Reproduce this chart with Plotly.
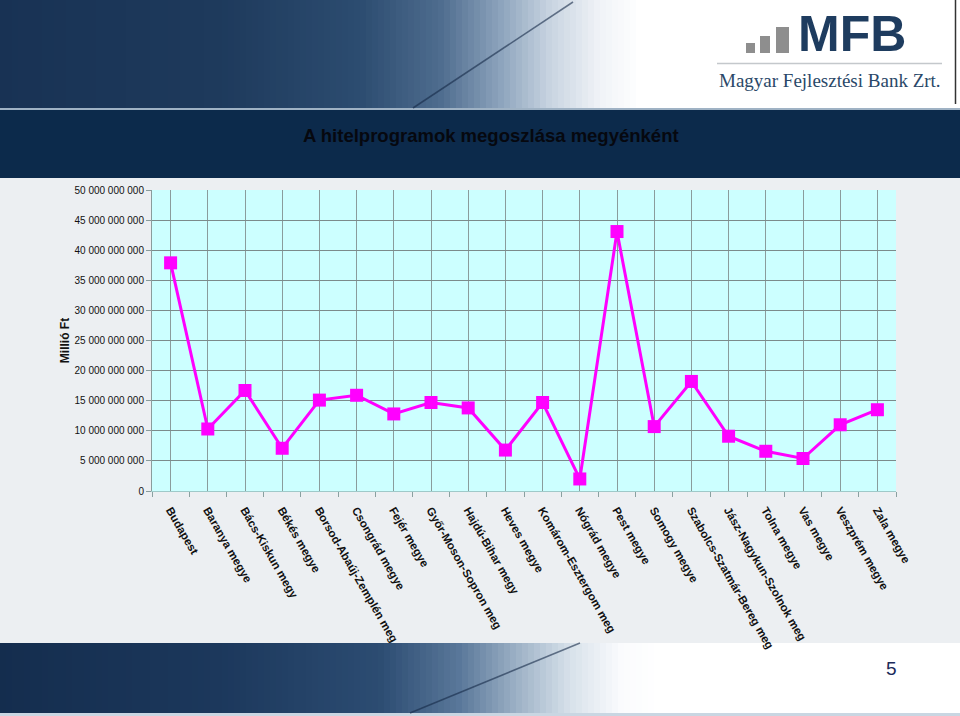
import plotly.graph_objects as go

# ---------------- data ----------------
categories = [
    "Budapest", "Baranya megye", "Bács-Kiskun megye", "Békés megye",
    "Borsod-Abaúj-Zemplén megye", "Csongrád megye", "Fejér megye",
    "Győr-Moson-Sopron megye", "Hajdú-Bihar megye", "Heves megye",
    "Komárom-Esztergom megye", "Nógrád megye", "Pest megye", "Somogy megye",
    "Szabolcs-Szatmár-Bereg megye", "Jász-Nagykun-Szolnok megye",
    "Tolna megye", "Vas megye", "Veszprém megye", "Zala megye",
]
# tick labels as they appear (clipped) on the slide
tick_labels = [
    "Budapest", "Baranya megye", "Bács-Kiskun megy", "Békés megye",
    "Borsod-Abaúj-Zemplén meg", "Csongrád megye", "Fejér megye",
    "Győr-Moson-Sopron meg", "Hajdú-Bihar megy", "Heves megye",
    "Komárom-Esztergom meg", "Nógrád megye", "Pest megye", "Somogy megye",
    "Szabolcs-Szatmár-Bereg meg", "Jász-Nagykun-Szolnok meg",
    "Tolna megye", "Vas megye", "Veszprém megye", "Zala megye",
]
values = [
    37.9e9, 10.3e9, 16.7e9, 7.1e9, 15.1e9, 15.9e9, 12.8e9, 14.7e9, 13.8e9,
    6.8e9, 14.7e9, 2.0e9, 43.1e9, 10.7e9, 18.2e9, 9.1e9, 6.6e9, 5.4e9,
    11.0e9, 13.5e9,
]
y_tick_values = [i * 5e9 for i in range(11)]

title_text = "A hitelprogramok megoszlása megyénként"
y_title = "Millió Ft"
page_number = "5"

# ---------------- layout geometry ----------------
W, H = 960, 716
L, R, T, B = 152, 64, 190, 225
PW, PH = W - L - R, H - T - B


def px(x):
    return (x - L) / PW


def py(y):
    return (H - B - y) / PH


def lerp_color(stops, x):
    for (x0, c0), (x1, c1) in zip(stops, stops[1:]):
        if x0 <= x <= x1:
            t = (x - x0) / (x1 - x0) if x1 > x0 else 0
            c = [round(a + (b - a) * t) for a, b in zip(c0, c1)]
            return "rgb(%d,%d,%d)" % tuple(c)
    return "rgb(%d,%d,%d)" % stops[-1][1]


shapes = []

head_stops = [(0, (24, 50, 84)), (220, (30, 58, 92)), (360, (44, 76, 112)),
              (440, (78, 108, 142)), (500, (140, 163, 188)), (550, (200, 212, 225)),
              (600, (240, 243, 247)), (640, (255, 255, 255)), (960, (255, 255, 255))]
foot_stops = [(0, (20, 45, 78)), (220, (28, 56, 92)), (380, (44, 76, 114)),
              (460, (90, 120, 154)), (520, (160, 180, 200)), (570, (215, 225, 234)),
              (620, (250, 251, 253)), (660, (255, 255, 255)), (960, (255, 255, 255))]

step = 6
for xs in range(0, W, step):
    shapes.append(dict(type="rect", xref="paper", yref="paper",
                       x0=px(xs), x1=px(xs + step + 0.5), y0=py(108), y1=py(0),
                       fillcolor=lerp_color(head_stops, xs + step / 2),
                       line_width=0, layer="below"))
    shapes.append(dict(type="rect", xref="paper", yref="paper",
                       x0=px(xs), x1=px(xs + step + 0.5), y0=py(713), y1=py(643),
                       fillcolor=lerp_color(foot_stops, xs + step / 2),
                       line_width=0, layer="below"))

# thin separator, title band
shapes.append(dict(type="rect", xref="paper", yref="paper", x0=px(0), x1=px(W),
                   y0=py(110), y1=py(108), fillcolor="#9fb2c4", line_width=0, layer="below"))
shapes.append(dict(type="rect", xref="paper", yref="paper", x0=px(0), x1=px(W),
                   y0=py(178), y1=py(110), fillcolor="#0c2a4b", line_width=0, layer="below"))
shapes.append(dict(type="rect", xref="paper", yref="paper", x0=px(0), x1=px(W),
                   y0=py(716), y1=py(713), fillcolor="#c9d6e2", line_width=0, layer="below"))
# decorative diagonal strokes
shapes.append(dict(type="line", xref="paper", yref="paper", x0=px(413), y0=py(108),
                   x1=px(573), y1=py(2), line=dict(color="rgba(20,40,70,0.6)", width=1.5),
                   layer="below"))
shapes.append(dict(type="line", xref="paper", yref="paper", x0=px(410), y0=py(713),
                   x1=px(580), y1=py(643), line=dict(color="rgba(20,40,70,0.6)", width=1.5),
                   layer="below"))
# header right border
shapes.append(dict(type="line", xref="paper", yref="paper", x0=px(955.5), y0=py(0),
                   x1=px(955.5), y1=py(104), line=dict(color="#333", width=1.5), layer="below"))

# logo bars and rule
for (bx0, bx1, by0) in [(746, 755, 43), (760, 770, 36), (776, 789, 27)]:
    shapes.append(dict(type="rect", xref="paper", yref="paper", x0=px(bx0), x1=px(bx1),
                       y0=py(53), y1=py(by0), fillcolor="#8e8e8e", line_width=0,
                       layer="below"))
shapes.append(dict(type="line", xref="paper", yref="paper", x0=px(717), y0=py(63.5),
                   x1=px(942), y1=py(63.5), line=dict(color="#c4c8cc", width=1.5),
                   layer="below"))

annotations = [
    dict(text="<b>" + title_text + "</b>", xref="paper", yref="paper", x=px(491), y=py(136),
         xanchor="center", yanchor="middle", showarrow=False,
         font=dict(family="Liberation Sans, Arial", size=18.5, color="#06080f")),
    dict(text="<b>MFB</b>", xref="paper", yref="paper", x=px(796), y=py(34),
         xanchor="left", yanchor="middle", showarrow=False,
         font=dict(family="Liberation Sans, Arial", size=50, color="#1e3c5f")),
    dict(text="Magyar Fejlesztési Bank Zrt.", xref="paper", yref="paper",
         x=px(717), y=py(80), xanchor="left", yanchor="middle", showarrow=False,
         font=dict(family="Liberation Serif, Times New Roman", size=19, color="#2a4868")),
    dict(text=page_number, xref="paper", yref="paper", x=px(891), y=py(668),
         xanchor="center", yanchor="middle", showarrow=False,
         font=dict(family="Liberation Sans, Arial", size=19, color="#1c2a5a")),
]

fig = go.Figure()
fig.add_trace(go.Scatter(
    x=list(range(len(categories))), y=values, mode="lines+markers",
    line=dict(color="#ff00ff", width=3),
    marker=dict(symbol="square", size=13, color="#ff00ff"),
    customdata=categories,
    hovertemplate="%{customdata}: %{y:,.0f} Ft<extra></extra>",
    cliponaxis=False,
))

fig.update_layout(
    width=W, height=H,
    margin=dict(l=L, r=R, t=T, b=B, autoexpand=False),
    paper_bgcolor="#eceff2",
    plot_bgcolor="#ccffff",
    separators=", ",
    showlegend=False,
    shapes=shapes,
    annotations=annotations,
    xaxis=dict(
        range=[-0.5, len(categories) - 0.5],
        tickmode="array",
        tickvals=list(range(len(categories))),
        ticktext=tick_labels,
        tickangle=60,
        ticks="",
        ticklabelstandoff=7,
        showgrid=True, gridcolor="#8a9c9c", gridwidth=1,
        zeroline=False,
        showline=True, linecolor="#9fc9c9", linewidth=1,
        tickfont=dict(family="Liberation Sans, Arial", size=11.5, color="#111111",
                      weight="bold"),
        minor=dict(tickmode="array",
                   tickvals=[i + 0.5 for i in range(-1, len(categories))],
                   ticks="outside", ticklen=5, tickcolor="#8aa0a0", showgrid=False),
        fixedrange=True,
    ),
    yaxis=dict(
        range=[0, 50e9],
        tickmode="array",
        tickvals=y_tick_values,
        tickformat=",.0f",
        ticks="outside", ticklen=5, tickcolor="#8a9c9c",
        showgrid=True, gridcolor="#7b8b8b", gridwidth=1,
        zeroline=False,
        showline=True, linecolor="#8a9c9c", linewidth=1,
        tickfont=dict(family="Liberation Sans, Arial", size=10, color="#111111"),
        title=dict(text="<b>" + y_title + "</b>", standoff=2,
                   font=dict(family="Liberation Sans, Arial", size=12, color="#111111")),
        fixedrange=True,
    ),
)

fig.write_html("out.html")
